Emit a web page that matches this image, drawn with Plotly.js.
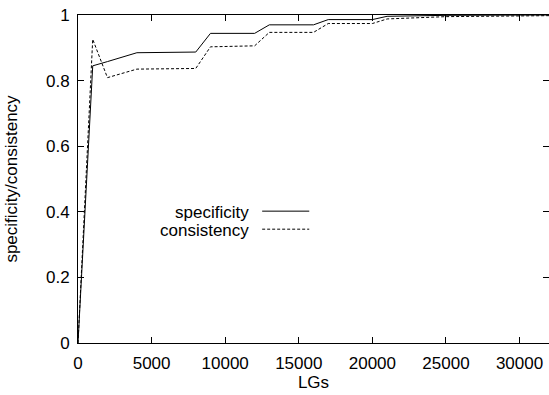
<!DOCTYPE html>
<html>
<head>
<meta charset="utf-8">
<script src="https://cdn.plot.ly/plotly-3.0.1.min.js"></script>
<style>
html,body{margin:0;padding:0;background:#fff;}
#chart{width:549px;height:395px;}
</style>
</head>
<body>
<div id="chart"></div>
<script>
// Data
const lgs = [0, 1000, 2000, 4000, 8000, 9000, 12000, 13000, 16000, 17000, 20000, 21000, 25000, 32000];
const specificity = [0, 0.845, 0.858, 0.885, 0.887, 0.944, 0.944, 0.970, 0.970, 0.986, 0.986, 0.996, 0.999, 1.0];
const consistency = [0, 0.926, 0.809, 0.835, 0.837, 0.903, 0.906, 0.947, 0.947, 0.974, 0.974, 0.988, 0.995, 0.998];
const seriesNames = ["specificity", "consistency"];
const xTicks = [0, 5000, 10000, 15000, 20000, 25000, 30000];
const yTicks = [0, 0.2, 0.4, 0.6, 0.8, 1];
const yTickText = ["0", "0.2", "0.4", "0.6", "0.8", "1"];

const FONT = "Liberation Sans, Arial, Helvetica, sans-serif";
const FS = 17;

const traces = [
  {x: lgs, y: specificity, name: seriesNames[0], mode: "lines",
   line: {color: "#000", width: 1}},
  {x: lgs, y: consistency, name: seriesNames[1], mode: "lines",
   line: {color: "#000", width: 1, dash: "3px,2px"}}
];

const axisCommon = {
  showgrid: false, zeroline: false, showline: true, linecolor: "#000", linewidth: 1,
  mirror: "ticks", ticks: "inside", ticklen: 6, tickcolor: "#000", tickwidth: 1,
  tickfont: {family: FONT, size: FS, color: "#000"}
};

const layout = {
  width: 549, height: 395,
  margin: {l: 78, r: 0, t: 15, b: 52},
  paper_bgcolor: "#fff", plot_bgcolor: "#fff",
  showlegend: false,
  font: {family: FONT, size: FS, color: "#000"},
  xaxis: Object.assign({}, axisCommon, {
    range: [0, 32000], tickvals: xTicks, ticktext: xTicks.map(String),
    ticklabelstandoff: 5,
    title: {text: "LGs", font: {family: FONT, size: FS, color: "#000"}, standoff: 2}
  }),
  yaxis: Object.assign({}, axisCommon, {
    range: [0, 1], tickvals: yTicks, ticktext: yTickText,
    ticklabelstandoff: 4,
    title: {text: "specificity/consistency", font: {family: FONT, size: FS, color: "#000"}, standoff: 24}
  }),
  annotations: [
    {xref: "paper", yref: "paper", x: 0.364, y: 0.399, xanchor: "right", yanchor: "middle",
     text: seriesNames[0], showarrow: false, xshift: 2, font: {family: FONT, size: FS, color: "#000"}},
    {xref: "paper", yref: "paper", x: 0.364, y: 0.344, xanchor: "right", yanchor: "middle",
     text: seriesNames[1], showarrow: false, xshift: 2, font: {family: FONT, size: FS, color: "#000"}}
  ],
  shapes: [
    {type: "line", xref: "paper", yref: "paper", x0: 0.391, x1: 0.491, y0: 0.402, y1: 0.402,
     line: {color: "#000", width: 1}},
    {type: "line", xref: "paper", yref: "paper", x0: 0.391, x1: 0.491, y0: 0.347, y1: 0.347,
     line: {color: "#000", width: 1, dash: "3px,2px"}}
  ]
};

Plotly.newPlot("chart", traces, layout, {displayModeBar: false, staticPlot: true});
</script>
</body>
</html>
